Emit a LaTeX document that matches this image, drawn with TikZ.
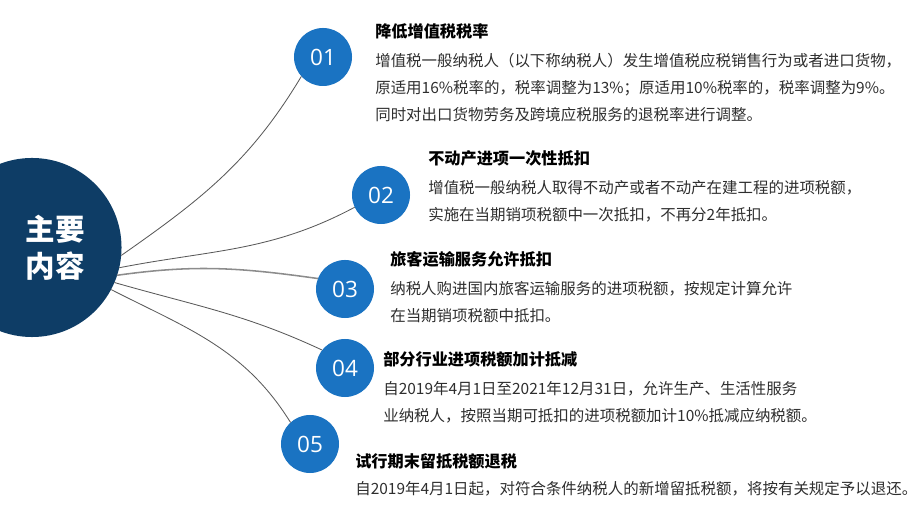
\documentclass[tikz,border=0pt]{standalone}
\usepackage{fontspec}
\setmainfont{Noto Sans CJK SC}
\newfontfamily\numfont{Open Sans}
\definecolor{navy}{HTML}{0E3D66}
\definecolor{ballblue}{HTML}{1A73C2}
\definecolor{bodygray}{HTML}{2E2E2E}
\begin{document}
\begin{tikzpicture}[
		x=0.025cm,y=0.025cm,
		line cap=round,
		line join=round,
		bigball/.style={circle,fill=navy,minimum size=4.475cm,inner sep=0pt},
		ball/.style={circle,fill=ballblue,minimum size=1.45cm,inner sep=0pt,text=white,font=\numfont\fontsize{16}{16}\selectfont},
		head/.style={anchor=base west,inner sep=0pt,font=\fontsize{11.5}{14}\selectfont\bfseries},
		body/.style={anchor=base west,inner sep=0pt,align=left,text=bodygray,font=\fontsize{11}{19.3}\selectfont},
		link/.style={draw=black!65,line width=0.6pt}
		]
		\useasboundingbox (0,0) rectangle (920,518);
		\node[bigball] (main) at (32,270.5) {};
		\node[text=white,align=center,font=\fontsize{21}{26}\selectfont\bfseries] (maintext) at (55,270) {主要\\内容};
		\node[ball] (c1) at (323,461) {01};
		\node[ball] (c2) at (381,323) {02};
		\node[ball] (c3) at (345,229) {03};
		\node[ball] (c4) at (345,150) {04};
		\node[ball] (c5) at (310,74) {05};
		\begin{scope}[link]
		\draw (main.-5) to[out=35,in=239] (c1.222);
		\draw (main.-13) to[out=11,in=208] (c2.205);
		\draw[draw=black!45,line width=1.1pt] (main.-18) to[out=8,in=172] (c3.159);
		\draw (main.-23) to[out=-16,in=155] (c4.142);
		\draw (main.-28) to[out=-27,in=122] (c5.132);
		\end{scope}
		\node[head] (t1) at (375,480) {降低增值税税率};
		\node[body] (b1) at (375,397.6) {增值税一般纳税人（以下称纳税人）发生增值税应税销售行为或者进口货物，\\原适用16\%税率的，税率调整为13\%；原适用10\%税率的，税率调整为9\%。\\同时对出口货物劳务及跨境应税服务的退税率进行调整。};
		\node[head] (t2) at (428,353) {不动产进项一次性抵扣};
		\node[body] (b2) at (428,297.8) {增值税一般纳税人取得不动产或者不动产在建工程的进项税额，\\实施在当期销项税额中一次抵扣，不再分2年抵扣。};
		\node[head] (t3) at (390,252) {旅客运输服务允许抵扣};
		\node[body] (b3) at (390,196.8) {纳税人购进国内旅客运输服务的进项税额，按规定计算允许\\在当期销项税额中抵扣。};
		\node[head] (t4) at (383,152) {部分行业进项税额加计抵减};
		\node[body] (b4) at (383,96.8) {自2019年4月1日至2021年12月31日，允许生产、生活性服务\\业纳税人，按照当期可抵扣的进项税额加计10\%抵减应纳税额。};
		\node[head] (t5) at (355,50) {试行期末留抵税额退税};
		\node[body] (b5) at (355,23) {自2019年4月1日起，对符合条件纳税人的新增留抵税额，将按有关规定予以退还。};
		\end{tikzpicture}
\end{document}
